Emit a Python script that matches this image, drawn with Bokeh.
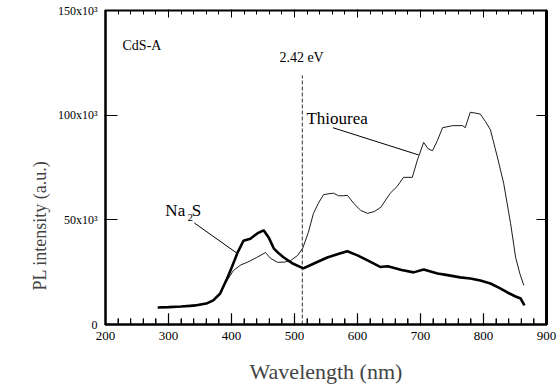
import math
from bokeh.plotting import figure
from bokeh.models import LinearAxis, Label, FixedTicker, Range1d, CustomJSTickFormatter, Title
from bokeh.embed import file_html
from bokeh.resources import INLINE

# ---- data ----
na2s_wl = [283, 300, 320, 340, 360, 371, 382, 393, 400, 410, 419, 430, 441, 451, 459, 467, 475,
           483, 498, 514, 530, 552, 573, 584, 600, 616, 636, 648, 670, 689, 705, 727, 743, 763,
           779, 795, 811, 825, 838, 850, 859, 865]
na2s_int = [8100, 8300, 8600, 9000, 10000, 11500, 14800, 22000, 27000, 34600, 40000, 41000, 43500,
            45000, 41600, 36400, 34000, 32000, 29000, 26800, 29000, 32000, 34000, 35000, 33000,
            30600, 27500, 27800, 26000, 24900, 26300, 24400, 23600, 22500, 22000, 21000, 19600,
            17500, 15300, 13500, 12400, 9100]

thio_wl = [283, 320, 360, 371, 382, 386, 395, 403, 415, 425, 440, 454, 462, 473, 484, 494, 505, 513,
           522, 530, 538, 546, 555, 562, 570, 578, 584, 594, 605, 616, 627, 637, 652, 663, 673, 687,
           695, 705, 712, 719, 727, 735, 751, 767, 771, 779, 787, 795, 803, 811, 822, 832, 843, 851,
           858, 864]
thio_int = [8100, 8600, 10000, 11500, 14500, 17700, 22000, 25800, 28500, 29700, 32000, 34400, 31600,
            29700, 29800, 30600, 33000, 36400, 44000, 53000, 58000, 62000, 62500, 62700, 61500,
            61500, 61700, 57900, 54500, 53100, 54000, 56000, 62700, 66000, 70300, 70300, 78500,
            87000, 84000, 83000, 88000, 94000, 95000, 95000, 94000, 101400, 101000, 100500, 97000,
            93000, 80000, 67500, 48300, 32000, 24000, 18700]

x_ticks = [200, 300, 400, 500, 600, 700, 800, 900]
x_minor_ticks = [t for t in range(200, 901, 20) if t % 100 != 0]
y_ticks = [0, 50000, 100000, 150000]
y_tick_labels = ["0", "50x10\u00b3", "100x10\u00b3", "150x10\u00b3"]
bandgap_ev = 2.42
bandgap_nm = 1240.0 / bandgap_ev

FONT = "Liberation Serif"
X0, X1, Y0, Y1 = 200, 900, 0, 150000
FW, FH = 441, 314
px_x = (X1 - X0) / FW
px_y = (Y1 - Y0) / FH

p = figure(frame_width=FW, frame_height=FH, x_range=Range1d(X0, X1), y_range=Range1d(Y0, Y1),
           output_backend="svg", toolbar_location=None,
           min_border_left=105, min_border_right=12, min_border_top=10, min_border_bottom=30)
p.outline_line_color = "black"
p.outline_line_width = 2
p.background_fill_color = None
p.border_fill_color = None
p.xgrid.visible = False
p.ygrid.visible = False

blank = CustomJSTickFormatter(code="return '';")

def style(ax, width, labels=True):
    ax.axis_line_width = width
    ax.axis_line_color = "black"
    ax.major_tick_out = 1
    ax.minor_tick_out = 0
    ax.major_tick_line_width = 1
    ax.minor_tick_line_width = 1
    ax.major_tick_line_color = "black"
    ax.minor_tick_line_color = "black"
    ax.major_label_text_font = FONT
    ax.major_label_text_font_size = "13px"
    ax.major_label_text_color = "black"
    if not labels:
        ax.formatter = blank
        ax.major_label_standoff = 0

xb = p.xaxis[0]
xb.ticker = FixedTicker(ticks=x_ticks, minor_ticks=x_minor_ticks)
style(xb, 2)
xb.major_tick_in = 11
xb.minor_tick_in = 6
xb.major_label_standoff = 6
xb.axis_label = "Wavelength (nm)"
xb.axis_label_text_font = FONT
xb.axis_label_text_font_style = "normal"
xb.axis_label_text_font_size = "22px"
xb.axis_label_standoff = 16

yl = p.yaxis[0]
yl.ticker = FixedTicker(ticks=y_ticks)
style(yl, 2)
yl.major_tick_in = 12
yl.major_label_standoff = 7
yl.major_label_text_font_size = "12px"
yl.major_label_overrides = {t: s for t, s in zip(y_ticks, y_tick_labels)}

xt = LinearAxis(ticker=FixedTicker(ticks=x_ticks, minor_ticks=x_minor_ticks))
style(xt, 1, labels=False)
xt.major_tick_in = 7
xt.minor_tick_in = 4
p.add_layout(xt, "above")

yr = LinearAxis(ticker=FixedTicker(ticks=y_ticks))
style(yr, 3, labels=False)
yr.major_tick_in = 10
p.add_layout(yr, "right")

# y-axis title, placed low like the reference
p.add_layout(Title(text="PL intensity (a.u.)", text_font=FONT, text_font_size="18px",
                   text_font_style="normal", align="left", offset=34), "left")

# inward tick marks drawn as thin bars as well
hw = 0.6 * px_x
p.quad(left=[t - hw for t in x_ticks], right=[t + hw for t in x_ticks],
       bottom=[Y0] * len(x_ticks), top=[Y0 + 11 * px_y] * len(x_ticks), fill_color="black", line_color=None)
p.quad(left=[t - hw for t in x_minor_ticks], right=[t + hw for t in x_minor_ticks],
       bottom=[Y0] * len(x_minor_ticks), top=[Y0 + 6 * px_y] * len(x_minor_ticks),
       fill_color="black", line_color=None)

# dashed band gap line
p.segment(x0=[bandgap_nm], y0=[0], x1=[bandgap_nm], y1=[119000], line_color="#333333",
          line_width=1, line_dash="4 2")

p.line(thio_wl, thio_int, line_color="black", line_width=0.9)
p.line(na2s_wl, na2s_int, line_color="black", line_width=2.6)

# leader lines
p.segment(x0=[561], y0=[94000], x1=[697], y1=[81000], line_color="black", line_width=1)
p.segment(x0=[341], y0=[48500], x1=[409], y1=[34000], line_color="black", line_width=1)

def lab(x, y, t, size):
    p.add_layout(Label(x=x, y=y, text=t, text_font=FONT, text_font_size=size,
                       text_baseline="middle", text_color="black"))

lab(227, 133500, "CdS-A", "14px")
lab(476, 127500, "%.2f eV" % bandgap_ev, "14px")
lab(519, 98600, "Thiourea", "17px")
lab(295, 54500, "Na", "17px")
lab(330, 51000, "2", "11px")
lab(337, 54500, "S", "17px")

open("out.html", "w").write(file_html(p, INLINE))
